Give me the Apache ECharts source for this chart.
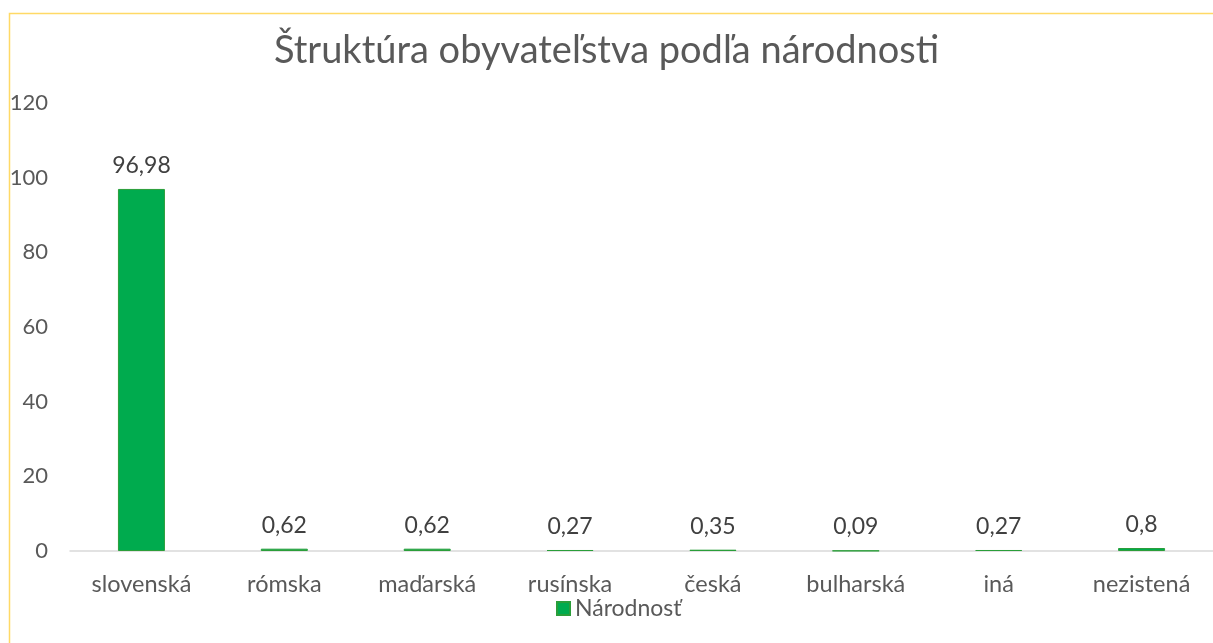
<!DOCTYPE html>
<html><head><meta charset="utf-8">
<script src="https://cdn.jsdelivr.net/npm/echarts@6/dist/echarts.min.js"></script>
<style>html,body{margin:0;padding:0;background:#fff}#c{width:1213px;height:643px}</style>
</head><body><div id="c"></div>
<script>
const titleText = 'Štruktúra obyvateľstva podľa národnosti';
const seriesName = 'Národnosť';
const categories = ['slovenská','rómska','maďarská','rusínska','česká','bulharská','iná','nezistená'];
const values = [96.98, 0.62, 0.62, 0.27, 0.35, 0.09, 0.27, 0.8];
const yTicks = { min: 0, max: 120, interval: 20 };

const FONT = 'Lato, "Open Sans", sans-serif';
const chart = echarts.init(document.getElementById('c'), null, {renderer:'canvas'});
chart.setOption({
  animation: false,
  backgroundColor: '#fff',
  graphic: [{
    type: 'rect', left: 7, top: 11, silent: true,
    shape: { x: 0, y: 0, width: 1230, height: 660 },
    style: { fill: 'none', stroke: '#ffd966', lineWidth: 1.5 }
  }],
  title: {
    text: titleText, left: 'center', top: 27,
    textStyle: { fontFamily: FONT, fontSize: 38, fontWeight: 'normal', color: '#595959' }
  },
  legend: {
    data: [seriesName], top: 597, left: 556, padding: 0,
    itemWidth: 13, itemHeight: 13, itemGap: 5,
    icon: 'rect',
    textStyle: { fontFamily: FONT, fontSize: 23, color: '#595959', padding: [0,0,0,0] }
  },
  grid: { left: 70, top: 103, width: 1155, height: 448, containLabel: false },
  xAxis: {
    type: 'category', data: categories,
    axisLine: { lineStyle: { color: '#d9d9d9', width: 1.5 } },
    axisTick: { show: false },
    axisLabel: { fontFamily: FONT, fontSize: 23.5, color: '#595959', margin: 21 }
  },
  yAxis: {
    type: 'value', min: yTicks.min, max: yTicks.max, interval: yTicks.interval,
    axisLine: { show: false }, axisTick: { show: false },
    splitLine: { show: false },
    axisLabel: { fontFamily: FONT, fontSize: 22, color: '#595959', margin: 22 }
  },
  series: [{
    name: seriesName, type: 'bar', data: values, barWidth: 47,
    itemStyle: { color: '#00ab4e', borderColor: '#2b9e3a', borderWidth: 1 },
    label: {
      show: true, position: 'top', distance: 12,
      fontFamily: FONT, fontSize: 23, color: '#404040',
      formatter: p => String(p.value).replace('.', ',')
    }
  }]
});
</script></body></html>
